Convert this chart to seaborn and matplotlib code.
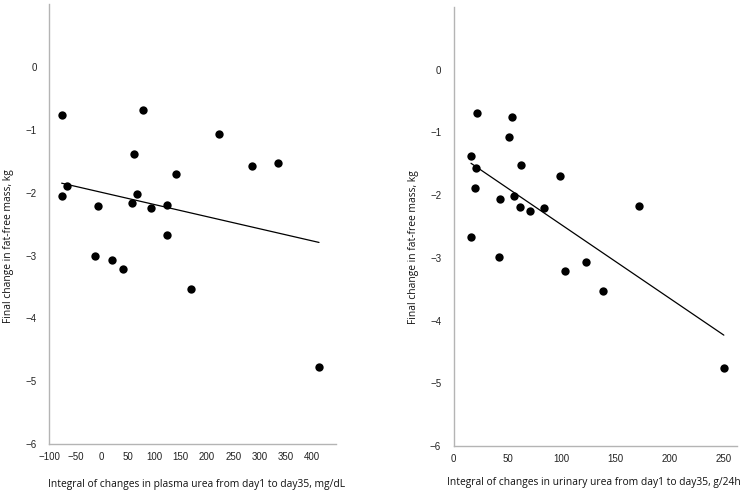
import numpy as np
import pandas as pd
import matplotlib
matplotlib.use("Agg")
import matplotlib.pyplot as plt
import seaborn as sns
from matplotlib.ticker import MultipleLocator

# Data
plasma_x = [-76, 79, 223, 61, 286, 335, 142, -65, -76, 68, -6, 58, 93, 125, 125,
            -12, 20, 40, 170, 413]
plasma_y = [-0.76, -0.69, -1.07, -1.38, -1.57, -1.53, -1.70, -1.89, -2.06, -2.02,
            -2.21, -2.17, -2.25, -2.19, -2.67, -3.00, -3.07, -3.22, -3.54, -4.77]

urine_x = [21.5, 53.6, 50.8, 16, 20.9, 62.2, 98.5, 19.4, 42.8, 55.7, 61.3, 70.8,
           84, 171.5, 16, 42.2, 102.8, 122.5, 137.9, 250]
urine_y = [-0.69, -0.76, -1.07, -1.38, -1.57, -1.52, -1.70, -1.89, -2.06, -2.02,
           -2.19, -2.25, -2.21, -2.17, -2.67, -2.99, -3.21, -3.06, -3.53, -4.76]

ylabel = "Final change in fat-free mass, kg"
xlabel_left = "Integral of changes in plasma urea from day1 to day35, mg/dL"
xlabel_right = "Integral of changes in urinary urea from day1 to day35, g/24h"

sns.set_style("white")
plt.rcParams['font.family'] = ['Liberation Sans', 'DejaVu Sans']

fig = plt.figure(figsize=(7.45, 4.93), dpi=100)
ax1 = fig.add_axes([0.0658, 0.0994, 0.385, 0.892])
ax2 = fig.add_axes([0.609, 0.0953, 0.380, 0.891])

df1 = pd.DataFrame({"x": plasma_x, "y": plasma_y})
df2 = pd.DataFrame({"x": urine_x, "y": urine_y})

spine_col = "#b4b4b4"
label_font = ["Open Sans", "DejaVu Sans"]

for ax, df, xl, xlim, xlab_pos, ylab_pos in [
    (ax1, df1, xlabel_left, (-100, 445), (0.516, -0.091), (-0.141, 0.45)),
    (ax2, df2, xlabel_right, (0, 262), (0.494, -0.082), (-0.142, 0.452)),
]:
    sns.regplot(data=df, x="x", y="y", ax=ax, ci=None, truncate=True,
                scatter_kws=dict(s=36, color="black", edgecolor="black", linewidths=0,
                                 alpha=1, zorder=3),
                line_kws=dict(color="black", lw=0.9))
    ax.set_xlim(*xlim)
    ax.set_ylim(-6, 1)
    ax.set_yticks([-6, -5, -4, -3, -2, -1, 0])
    ax.yaxis.set_minor_locator(MultipleLocator(0.5))
    ax.xaxis.set_major_locator(MultipleLocator(50))
    ax.xaxis.set_minor_locator(MultipleLocator(25))
    ax.set_xticks([t for t in ax.get_xticks() if xlim[0] <= t <= xlim[1] - 5])
    for s in ["top", "right"]:
        ax.spines[s].set_visible(False)
    for s in ["left", "bottom"]:
        ax.spines[s].set_color(spine_col)
        ax.spines[s].set_linewidth(1.0)
    ax.tick_params(axis="both", which="both", colors=spine_col, labelcolor="#222222",
                   labelsize=7, length=3, width=0.8)
    ax.tick_params(axis="x", which="both", direction="in", pad=6)
    ax.tick_params(axis="y", which="both", direction="out", pad=6)
    ax.set_xlabel(xl, fontsize=7.4, family=label_font, color="#111111", va="center")
    ax.set_ylabel(ylabel, fontsize=7.4, family=label_font, color="#111111", va="center")
    ax.xaxis.set_label_coords(*xlab_pos)
    ax.yaxis.set_label_coords(*ylab_pos)

fig.savefig("out.png", dpi=100)
